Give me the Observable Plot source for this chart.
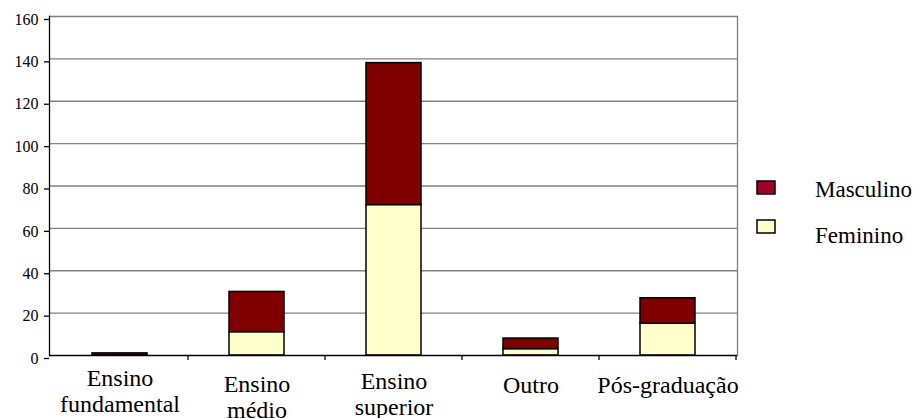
<!DOCTYPE html>
<html>
<head>
<meta charset="utf-8">
<script src="https://cdn.jsdelivr.net/npm/d3@7"></script>
<script src="https://cdn.jsdelivr.net/npm/@observablehq/plot@0.6"></script>
<style>
  html, body { margin: 0; padding: 0; background: #ffffff; font-family: "Liberation Serif", serif; }
  #chart { width: 918px; height: 418px; overflow: hidden; }
</style>
</head>
<body>
<div id="chart"></div>
<script>
const categories = ["Ensino fundamental", "Ensino médio", "Ensino superior", "Outro", "Pós-graduação"];
const categoryLabels = ["Ensino\nfundamental", "Ensino\nmédio", "Ensino\nsuperior", "Outro", "Pós-graduação"];
const series = ["Feminino", "Masculino"];
const feminino = [0, 11, 71, 3, 15];
const masculino = [1, 19, 67, 5, 12];
const yTicks = [0, 20, 40, 60, 80, 100, 120, 140, 160];

const data = [];
categories.forEach((c, i) => {
  data.push({category: c, series: "Feminino", value: feminino[i]});
  data.push({category: c, series: "Masculino", value: masculino[i]});
});

// layout tweaks for label baselines (pixel offsets below the baseline)
const labelDy = [13, 19, 16, 20, 20];

const font = "Liberation Serif";

const plot = Plot.plot({
  width: 918,
  height: 418,
  marginLeft: 49,
  marginRight: 181,
  marginTop: 16,
  marginBottom: 63,
  style: {background: "#ffffff", color: "#000000", overflow: "visible", fontFamily: font},
  x: {domain: categories, paddingInner: 0.6, paddingOuter: 0.3, axis: null},
  y: {domain: [0, 160], axis: null},
  color: {domain: series, range: ["#ffffcc", "#800000"]},
  marks: [
    Plot.ruleY(yTicks.slice(1), {stroke: "#808080", strokeWidth: 1.3}),
    Plot.barY(data, Plot.stackY({
      x: "category", y: "value", fill: "series", order: series,
      stroke: "#000000", strokeWidth: 1.5
    })),
    Plot.frame({anchor: "right", stroke: "#808080", strokeWidth: 1.3}),
    Plot.ruleY([0], {stroke: "#000000", strokeWidth: 1.3}),
    Plot.frame({anchor: "left", stroke: "#000000", strokeWidth: 1.3}),
    Plot.axisY({ticks: yTicks, label: null, tickSize: 5, tickPadding: 6, fontSize: 16, fontFamily: font, stroke: "#000000", strokeWidth: 1.3, dy: 3, fill: "#000000"}),
    ...categories.map((c, i) => Plot.text([i], {
      x: (d) => categories[d], y: () => 0, text: (d) => categoryLabels[d],
      lineAnchor: "top", lineHeight: 1.05, fontSize: 24, fontFamily: font, dy: labelDy[i], fill: "#000000"
    }))
  ]
});

document.getElementById("chart").appendChild(plot);

// category boundary ticks on the x axis
const svg = d3.select(plot);
const xs = plot.scale("x");
const step = xs.step, bw = xs.bandwidth;
const y0 = plot.scale("y").apply(0);
const boundaries = categories.map((c) => xs.apply(c) - (step - bw) / 2 + step);
svg.append("g").selectAll("line").data(boundaries).join("line")
  .attr("x1", (d) => d).attr("x2", (d) => d)
  .attr("y1", y0).attr("y2", y0 + 5)
  .attr("stroke", "#000000").attr("stroke-width", 1.3);

// legend
const legendItems = [
  {label: "Masculino", fill: "#a00028", sy: 181, ty: 197},
  {label: "Feminino", fill: "#ffffcc", sy: 220, ty: 243}
];
const lg = svg.append("g").attr("text-anchor", "start");
legendItems.forEach((it) => {
  lg.append("rect").attr("x", 757).attr("y", it.sy).attr("width", 18).attr("height", 13)
    .attr("fill", it.fill).attr("stroke", "#000000").attr("stroke-width", 1.5);
  lg.append("text").attr("x", 815).attr("y", it.ty).attr("font-size", 23)
    .attr("text-anchor", "start").attr("fill", "#000000").text(it.label);
});

svg.selectAll("text, tspan").style("font-family", font);
</script>
</body>
</html>
